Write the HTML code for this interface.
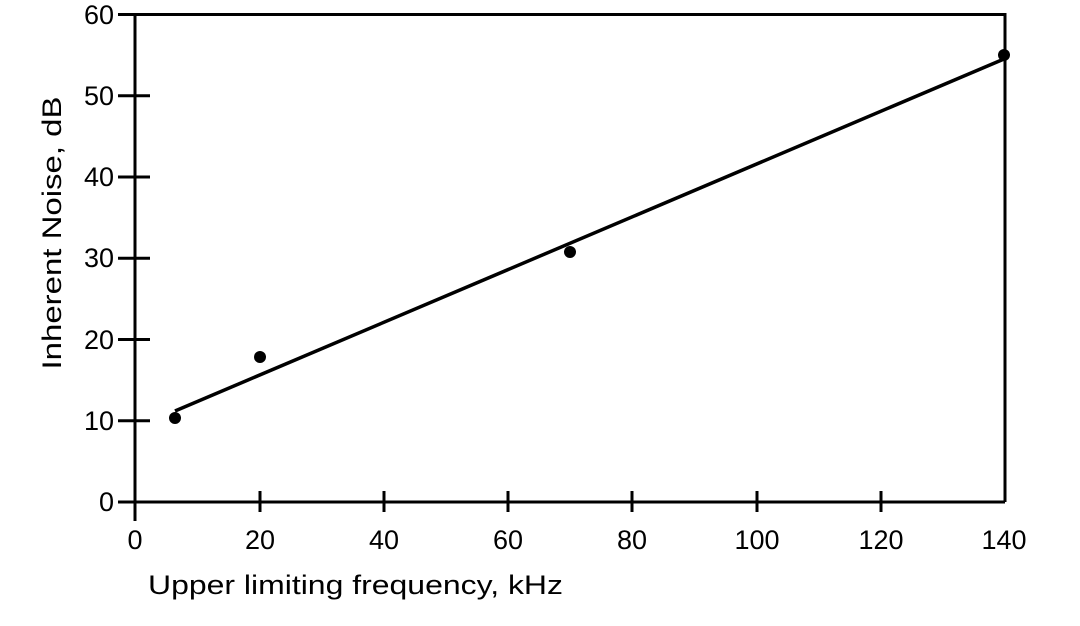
<!DOCTYPE html>
<html><head><meta charset="utf-8"><style>html,body{margin:0;padding:0;background:#fff}</style></head>
<body>
<svg width="1080" height="621" viewBox="0 0 1080 621" xmlns="http://www.w3.org/2000/svg" font-family="Liberation Sans, sans-serif" fill="#000">
<g stroke="#000" stroke-width="3" fill="none">
<polyline points="135,502 135,14.5 1005,14.5 1005,502"/>
<line x1="118" y1="502" x2="1005" y2="502"/>
<line x1="118" y1="14.5" x2="150" y2="14.5"/>
<line x1="118" y1="95.7" x2="150" y2="95.7"/>
<line x1="118" y1="177" x2="150" y2="177"/>
<line x1="118" y1="258.2" x2="150" y2="258.2"/>
<line x1="118" y1="339.5" x2="150" y2="339.5"/>
<line x1="118" y1="420.7" x2="150" y2="420.7"/>
<line x1="135" y1="491" x2="135" y2="521"/>
<line x1="260" y1="491" x2="260" y2="512"/>
<line x1="384" y1="491" x2="384" y2="512"/>
<line x1="508" y1="491" x2="508" y2="512"/>
<line x1="632" y1="491" x2="632" y2="512"/>
<line x1="757" y1="491" x2="757" y2="512"/>
<line x1="881" y1="491" x2="881" y2="512"/>
<line x1="175" y1="411" x2="1004" y2="59" stroke-width="3.5"/>
</g>
<circle cx="175" cy="418" r="6"/>
<circle cx="260" cy="357" r="6"/>
<circle cx="570" cy="252" r="6"/>
<circle cx="1004" cy="55" r="6"/>
<g font-size="27" text-anchor="end">
<text x="114" y="24">60</text>
<text x="114" y="105">50</text>
<text x="114" y="186">40</text>
<text x="114" y="267">30</text>
<text x="114" y="349">20</text>
<text x="114" y="430">10</text>
<text x="114" y="511">0</text>
</g>
<g font-size="27" text-anchor="middle">
<text x="135" y="549">0</text>
<text x="260" y="549">20</text>
<text x="384" y="549">40</text>
<text x="508" y="549">60</text>
<text x="632" y="549">80</text>
<text x="757" y="549">100</text>
<text x="881" y="549">120</text>
<text x="1004" y="549">140</text>
</g>
<text x="148" y="594" font-size="27" textLength="415" lengthAdjust="spacingAndGlyphs">Upper limiting frequency, kHz</text>
<text transform="translate(61,233) rotate(-90)" text-anchor="middle" font-size="27" textLength="273" lengthAdjust="spacingAndGlyphs">Inherent Noise, dB</text>
</svg>
</body></html>
